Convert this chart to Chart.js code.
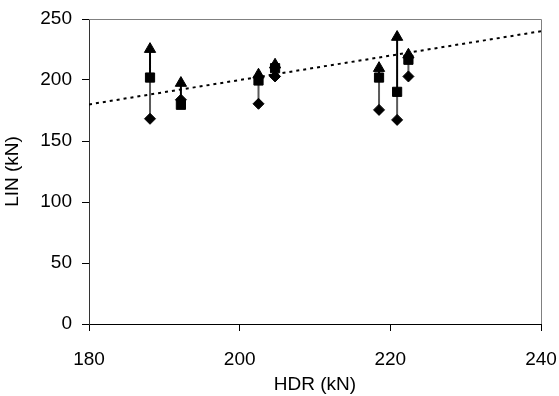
<!DOCTYPE html>
<html>
<head>
<meta charset="utf-8">
<script src="https://cdn.jsdelivr.net/npm/chart.js@4/dist/chart.umd.min.js"></script>
<style>
  body { margin: 0; background: #fff; }
</style>
</head>
<body>
<canvas id="chart-1" width="559" height="396"></canvas>
<script>
/************************ data ******************************************************/

const hdr = [188.1, 192.2, 202.5, 204.7, 218.5, 220.9, 222.4];
const linMax = [225.3, 197.5, 204.3, 212.5, 209.7, 235.2, 220.7]; // triangles
const linMid = [202.0, 179.7, 199.6, 209.7, 202.0, 190.3, 216.6]; // squares
const linMin = [168.2, 183.8, 180.5, 202.9, 175.5, 167.3, 202.9]; // diamonds
const refLine = [180, 240]; // LIN = HDR
const xTicks = [180, 200, 220, 240];
const yTicks = [0, 50, 100, 150, 200, 250];

function pts(ys) {
  return hdr.map((x, i) => ({ x: x, y: ys[i] }));
}

// vertical bars, broken by nulls between groups
function bars(a, b) {
  const out = [];
  hdr.forEach((x, i) => {
    out.push({ x: x, y: a[i] }, { x: x, y: b[i] }, { x: x, y: null });
  });
  return out;
}

const font = { family: "'Liberation Sans', Arial, sans-serif", size: 19 };

/************************ plot border (top and right) *********************************/
const frame = {
  id: "frame",
  afterDatasetsDraw(chart) {
    const a = chart.chartArea;
    const c = chart.ctx;
    c.save();
    c.strokeStyle = "#808080";
    c.lineWidth = 1;
    c.beginPath();
    c.moveTo(a.left, a.top + 0.5);
    c.lineTo(a.right + 0.5, a.top + 0.5);
    c.lineTo(a.right + 0.5, a.bottom);
    c.stroke();
    c.restore();
  },
};

const ctx1 = document.getElementById("chart-1").getContext("2d");
const myChart1 = new Chart(ctx1, {
  type: "scatter",
  data: {
    datasets: [
      {
        label: "1:1",
        data: refLine.map((v) => ({ x: v, y: v })),
        showLine: true,
        borderColor: "#000",
        borderWidth: 2,
        borderDash: [3, 4],
        pointRadius: 0,
        order: 20,
      },
      {
        label: "upper",
        data: bars(linMid, linMax),
        showLine: true,
        spanGaps: false,
        borderColor: "#000",
        borderWidth: 2,
        pointRadius: 0,
        order: 10,
      },
      {
        label: "lower",
        data: bars(linMin, linMid),
        showLine: true,
        spanGaps: false,
        borderColor: "#5a5a5a",
        borderWidth: 2,
        pointRadius: 0,
        order: 11,
      },
      {
        label: "min",
        data: pts(linMin),
        pointStyle: "rectRot",
        pointRadius: 5.5,
        backgroundColor: "#000",
        borderColor: "#000",
        borderWidth: 1,
        order: 3,
      },
      {
        label: "mid",
        data: pts(linMid),
        pointStyle: "rect",
        pointRadius: 6.5,
        backgroundColor: "#000",
        borderColor: "#000",
        borderWidth: 1,
        order: 2,
      },
      {
        label: "max",
        data: pts(linMax),
        pointStyle: "triangle",
        pointRadius: 6.5,
        backgroundColor: "#000",
        borderColor: "#000",
        borderWidth: 1,
        order: 1,
      },
    ],
  },
  options: {
    responsive: false,
    animation: false,
    layout: {
      padding: { top: 19, right: 18, left: 0, bottom: 0 },
    },
    plugins: {
      legend: { display: false },
      tooltip: { enabled: false },
    },
    scales: {
      x: {
        type: "linear",
        min: xTicks[0],
        max: xTicks[xTicks.length - 1],
        afterBuildTicks: (s) => { s.ticks = xTicks.map((v) => ({ value: v })); },
        afterFit: (s) => {
          s.height = 72;
          s.paddingLeft = 0;
          s.paddingRight = 0;
        },
        ticks: { color: "#000", font: font, padding: 17, maxRotation: 0 },
        grid: { drawOnChartArea: false, tickLength: 7, color: "#000" },
        border: { color: "#000", width: 1 },
        title: {
          display: true,
          text: "HDR (kN)",
          color: "#000",
          font: font,
          padding: { top: 0, bottom: 0 },
        },
      },
      y: {
        type: "linear",
        min: yTicks[0],
        max: yTicks[yTicks.length - 1],
        afterBuildTicks: (s) => { s.ticks = yTicks.map((v) => ({ value: v })); },
        afterFit: (s) => {
          s.width = 89;
          s.paddingTop = 0;
          s.paddingBottom = 0;
        },
        ticks: { color: "#000", font: font, padding: 10 },
        grid: { drawOnChartArea: false, tickLength: 7, color: "#000" },
        border: { color: "#333", width: 1 },
        title: {
          display: true,
          text: "LIN (kN)",
          color: "#000",
          font: font,
          padding: { top: 1, bottom: 0 },
        },
      },
    },
  },
  plugins: [frame],
});
</script>
</body>
</html>
